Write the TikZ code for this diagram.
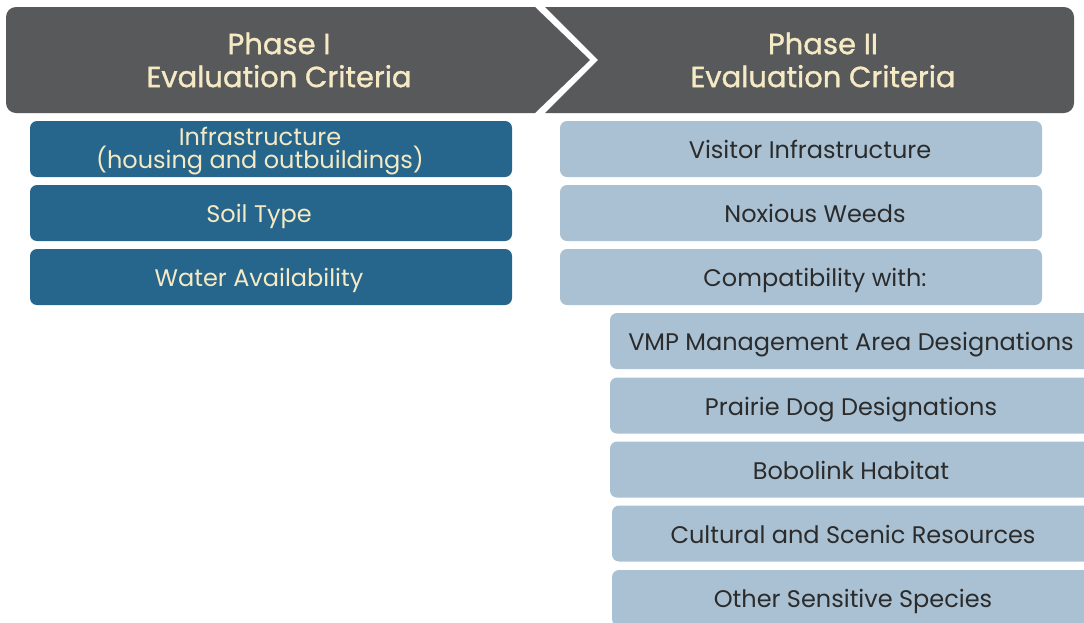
\documentclass[tikz,border=0pt]{standalone}
\usepackage{fontspec}
\setmainfont{Poppins}
\newfontfamily\hdrfont{Poppins}[FakeBold=1.2]
\usetikzlibrary{positioning}

\definecolor{hdrgray}{HTML}{58595B}
\definecolor{darkblue}{HTML}{27668C}
\definecolor{lightblue}{HTML}{A9C1D3}
\definecolor{cream}{HTML}{F5EAC4}
\definecolor{darktext}{HTML}{2B2B2B}

\tikzset{
  crit/.style={rounded corners=7pt, minimum width=482pt, minimum height=56pt, inner sep=0pt},
  txt/.style={align=center, inner sep=0pt, font=\fontsize{24}{20}\selectfont},
  oneline/.style={text height=19pt, text depth=0pt},
  % phase I boxes: text sits a bit left of the centre
  onebox/.style={crit, fill=darkblue,
    label={[txt, oneline, text=cream, xshift=-12pt]center:#1}},
  % phase II boxes: text sits a bit right of the centre
  twobox/.style 2 args={crit, fill=lightblue,
    label={[txt, oneline, text=darktext, xshift=#1]center:#2}},
  subbox/.style={crit, fill=lightblue,
    label={[txt, oneline, text=darktext]center:#1}},
  hdrtext/.style={align=center, inner sep=0pt, text=cream,
    font=\hdrfont\fontsize{29}{33}\selectfont}
}

\begin{document}
\begin{tikzpicture}[x=1pt,y=-1pt]
  \useasboundingbox (0,0) rectangle (1084,622);
  \clip (0,0) rectangle (1084,622);

  % header chevrons
  \fill[hdrgray] (535,113) -- (590,60) -- (535,7) -- (100,7) [rounded corners=10pt]
        -- (6,7) -- (6,113) -- (100,113) [sharp corners] -- cycle;
  \fill[hdrgray] (545,7) -- (598,60) -- (545,113) -- (900,113) [rounded corners=10pt]
        -- (1074,113) -- (1074,7) -- (900,7) [sharp corners] -- cycle;
  \node[hdrtext] (phaseI) at (279,60) {Phase I\\Evaluation Criteria};
  \node[hdrtext] (phaseII) at (823,60) {Phase II\\Evaluation Criteria};

  % phase I
  \node[crit, fill=darkblue,
    label={[txt, text=cream, xshift=-11pt, yshift=-2pt]center:Infrastructure\\(housing and outbuildings)}]
    (infra) at (271,149) {};
  \node[onebox=Soil Type] (soil) at (271,213) {};
  \node[onebox=Water Availability] (water) at (271,277) {};

  % phase II
  \node[twobox={9pt}{Visitor Infrastructure}] (visitor) at (801,149) {};
  \node[twobox={14pt}{Noxious Weeds}] (weeds) at (801,213) {};
  \node[twobox={14pt}{Compatibility with:}] (compat) at (801,277) {};

  \node[subbox=VMP Management Area Designations] (vmp) at (851,341) {};
  \node[subbox=Prairie Dog Designations] (prairie) at (851,405.5) {};
  \node[subbox=Bobolink Habitat] (bobolink) at (851,469.5) {};
  \node[subbox=Cultural and Scenic Resources] (cultural) at (853,533.5) {};
  \node[subbox=Other Sensitive Species] (other) at (853,598) {};
\end{tikzpicture}
\end{document}
